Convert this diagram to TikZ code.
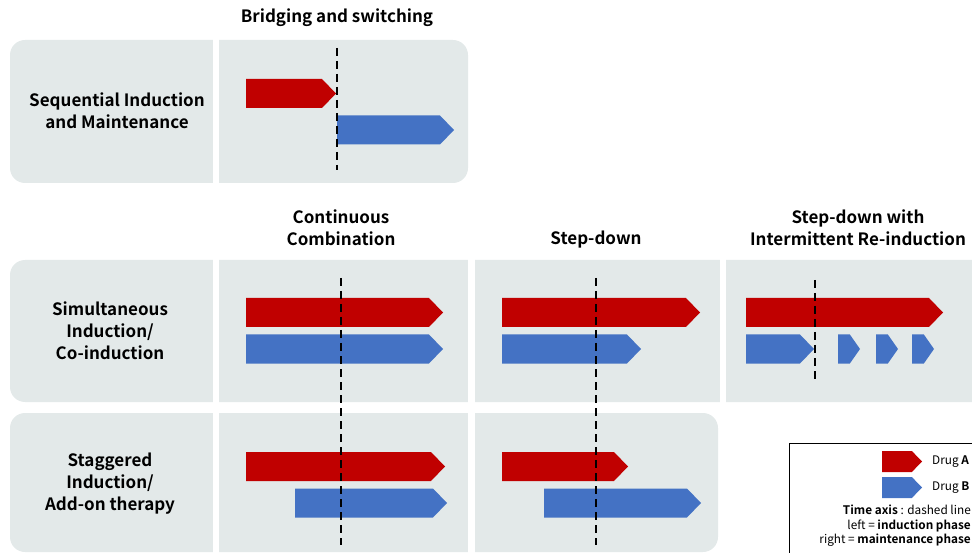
\documentclass[tikz,border=0pt]{standalone}
\usepackage{fontspec}
\setmainfont{Noto Sans CJK KR}[BoldFont={Noto Sans CJK KR Bold}]
\usetikzlibrary{shapes.symbols,positioning}
\definecolor{panelColor}{RGB}{227,233,233}
\definecolor{drugAColor}{RGB}{192,0,0}
\definecolor{drugBColor}{RGB}{68,114,196}
\tikzset{drug/.style={signal, signal to=east, signal pointer angle=92, inner sep=0pt, outer sep=0pt, minimum height=29pt, anchor=west}}
\tikzset{drugA/.style={drug, fill=drugAColor}}
\tikzset{drugB/.style={drug, fill=drugBColor}}
\tikzset{pulseB/.style={drugB, signal pointer angle=110}}
\tikzset{panel/.style={fill=panelColor, rounded corners=15pt}}
\tikzset{gap/.style={fill=white}}
\tikzset{timeaxis/.style={line width=1.5pt, dash pattern=on 8pt off 5pt}}
\tikzset{heading/.style={font=\bfseries\fontsize{17}{22}\selectfont, align=center, inner sep=0pt}}
\tikzset{legendText/.style={font=\fontsize{11.8}{14.5}\selectfont, inner sep=0pt}}

\begin{document}
\begin{tikzpicture}[x=1pt, y=-1pt]
	\clip (0,0) rectangle (972,553);
	% Panels
	\fill[panel] (10,40) rectangle (468,183);
	\fill[panel] (10,260) rectangle (995,402);
	\fill[panel] (10,413) rectangle (718,552);
	\fill[gap] (213,35) rectangle (219,190);
	\fill[gap] (213,255) rectangle (219,560);
	\fill[gap] (468,255) rectangle (475,560);
	\fill[gap] (720,255) rectangle (726,405);

	% Headings
	\node (bridging) [heading] at (337,18) {Bridging and switching};
	\node (continuous) [heading] at (341,228) {Continuous\\Combination};
	\node (stepdown) [heading] at (596,240) {Step-down};
	\node (reinduction) [heading] at (858,228) {Step-down with\\Intermittent Re-induction};
	\node (sequential) [heading] at (117,111) {Sequential Induction\\and Maintenance};
	\node (simultaneous) [heading] at (110,331) {Simultaneous\\Induction/\\Co-induction};
	\node (staggered) [heading] at (110,484) {Staggered\\Induction/\\Add-on therapy};

	% Time axes
	\coordinate (axisSeqTop) at (337,48);
	\coordinate (axisSeqBot) at (337,170);
	\coordinate (axisContTop) at (341,278);
	\coordinate (axisContBot) at (341,545);
	\coordinate (axisStepTop) at (596,278);
	\coordinate (axisStepBot) at (596,545);
	\coordinate (axisReTop) at (815,280);
	\coordinate (axisReBot) at (815,383);

	% Drug bars
	\node (seqA) [drugA, minimum width=90pt] at (246,93.5) {};
	\node (seqB) [drugB, minimum width=117pt] at (337,130) {};
	\node (simContA) [drugA, minimum width=197pt] at (246,312.5) {};
	\node (simContB) [drugB, minimum width=197pt] at (246,349) {};
	\node (simStepA) [drugA, minimum width=198pt] at (502,312.5) {};
	\node (simStepB) [drugB, minimum width=139pt] at (502,349) {};
	\node (simReA) [drugA, minimum width=197pt] at (746,312.5) {};
	\node (simReB) [drugB, minimum width=68pt] at (746,349) {};
	\foreach \x [count=\i] in {838,876,912}
		\node (pulse\i) [pulseB, minimum width=22pt] at (\x,349) {};
	\node (stagContA) [drugA, minimum width=199pt] at (246,466.5) {};
	\node (stagContB) [drugB, minimum width=152pt] at (295,503) {};
	\node (stagStepA) [drugA, minimum width=126pt] at (502,466.5) {};
	\node (stagStepB) [drugB, minimum width=157pt] at (544,503) {};

	\draw[timeaxis] (axisSeqTop) -- (axisSeqBot);
	\draw[timeaxis] (axisContTop) -- (axisContBot);
	\draw[timeaxis] (axisStepTop) -- (axisStepBot);
	\draw[timeaxis] (axisReTop) -- (axisReBot);

	% Legend
	\draw[line width=0.8pt] (789,443) rectangle (1010,600);
	\node (legA) [drugA, minimum width=40pt, minimum height=21pt] at (882,461.5) {};
	\node (legB) [drugB, minimum width=40pt, minimum height=21pt] at (882,487.5) {};
	\node (legAText) [legendText, right=10pt of legA] {Drug \textbf{A}};
	\node (legBText) [legendText, right=10pt of legB] {Drug \textbf{B}};
	\node (legAxis) [legendText, align=right, anchor=north east] at (971,505) {\textbf{Time axis} : dashed line\\left = \textbf{induction phase}\\right = \textbf{maintenance phase}};
\end{tikzpicture}
\end{document}
